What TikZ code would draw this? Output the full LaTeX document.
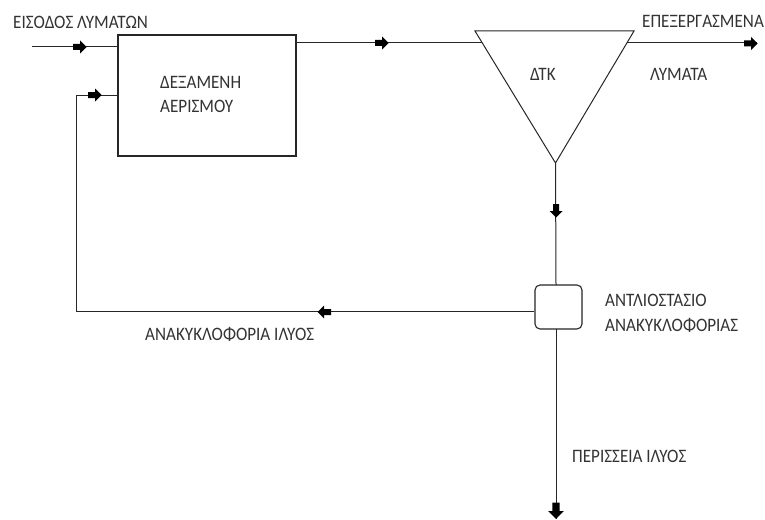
\documentclass[tikz,border=0pt]{standalone}
\usepackage{fontspec}
\setmainfont{Carlito}[FakeStretch=0.9]
\begin{document}
\begin{tikzpicture}[x=1pt,y=-1pt,
  line/.style={draw=black!85,line width=1pt},
  lbl/.style={anchor=west,inner sep=0pt,font=\fontsize{19}{21}\selectfont,text=black!80},
  unit/.style={draw=black!85,line width=1.1pt,fill=white},
  blk/.pic={\fill[black] (-7,-3)--(0,-3)--(0,-6.5)--(6.5,0)--(0,6.5)--(0,3)--(-7,3)--cycle;}]
\useasboundingbox (0,0) rectangle (765,519);
% tank
\node[unit,minimum width=178pt,minimum height=121pt,inner sep=0pt] (tank) at (207,95.5) {};
\node[lbl] (t1) at (160,82) {ΔΕΞΑΜΕΝΗ};
\node[lbl] (t2) at (160,106) {ΑΕΡΙΣΜΟΥ};
% clarifier
\coordinate (cTL) at (475,31);
\coordinate (cTR) at (634,31);
\coordinate (cB) at (555.5,163);
\draw[line,line width=1pt] (cTL) -- (cTR) -- (cB) -- cycle;
\node[lbl] (dtk) at (530,74) {ΔΤΚ};
\coordinate (cInL) at (482.3,43);
\coordinate (cInR) at (627,43);
% pump
\node[unit,rounded corners=5pt,minimum width=47pt,minimum height=44pt,inner sep=0pt] (pump) at (558.5,307) {};
% free ends
\coordinate (in0) at (32,47);
\coordinate (out0) at (757,43);
\coordinate (ex0) at (556,519);
\coordinate (rc1) at (76,311);
\coordinate (rc2) at (76,95);
% connectors
\draw[line] (in0) -- (tank.west |- in0);
\draw[line] (tank.east |- cInL) -- (cInL);
\draw[line] (cInR) -- (out0);
\draw[line] (cB) -- (556,285);
\draw[line] (556,329) -- (ex0);
\draw[line] (pump.west |- rc1) -- (rc1) -- (rc2) -- (tank.west |- rc2);
% arrows
\pic at (80,47) {blk};
\pic at (95,95) {blk};
\pic at (382,43) {blk};
\pic at (751,43.5) {blk};
\pic[rotate=-90] at (556,211) {blk};
\pic[rotate=180] at (324,312) {blk};
\pic[rotate=-90,scale=1.2] at (556,511) {blk};
% labels
\node[lbl] (inl) at (13,22) {ΕΙΣΟΔΟΣ ΛΥΜΑΤΩΝ};
\node[lbl] (o1) at (642,21) {ΕΠΕΞΕΡΓΑΣΜΕΝΑ};
\node[lbl] (o2) at (650,74) {ΛΥΜΑΤΑ};
\node[lbl] (rcl) at (145,334) {ΑΝΑΚΥΚΛΟΦΟΡΙΑ ΙΛΥΟΣ};
\node[lbl] (p1) at (605,300) {ΑΝΤΛΙΟΣΤΑΣΙΟ};
\node[lbl] (p2) at (605,325) {ΑΝΑΚΥΚΛΟΦΟΡΙΑΣ};
\node[lbl] (exl) at (572,456) {ΠΕΡΙΣΣΕΙΑ ΙΛΥΟΣ};
\end{tikzpicture}
\end{document}
